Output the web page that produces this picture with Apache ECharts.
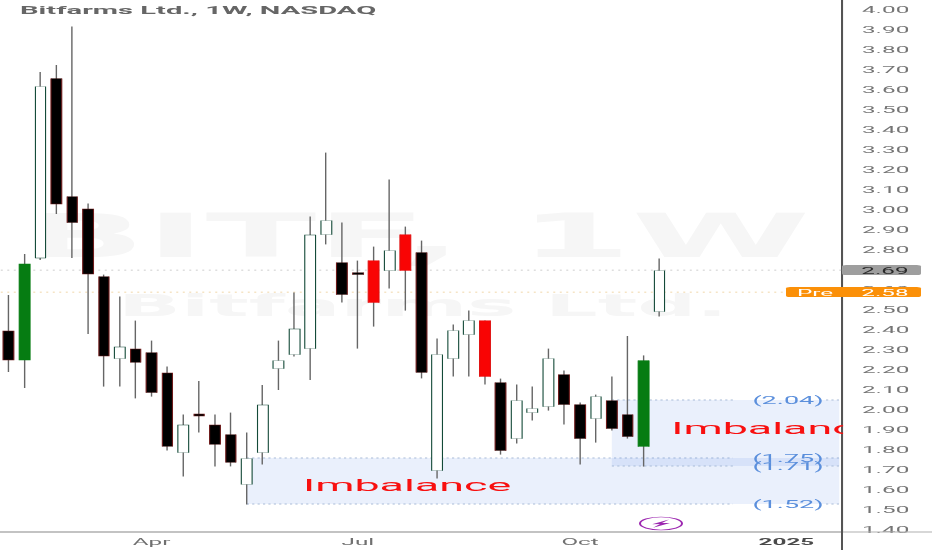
<!DOCTYPE html>
<html>
<head>
<meta charset="utf-8">
<style>
html,body{margin:0;padding:0;width:932px;height:550px;overflow:hidden;background:#fff}
#wrap{position:absolute;left:0;top:0;width:932px;height:550px;overflow:hidden;filter:blur(0.35px)}
#chart{position:absolute;left:0;top:0;transform-origin:0 0}
</style>
<script src="https://cdn.jsdelivr.net/npm/echarts@6/dist/echarts.min.js"></script>
</head>
<body>
<div id="wrap"><div id="chart"></div></div>
<script>
// ---- data ----
const categories = ['01-29','02-05','02-12','02-19','02-26','03-04','03-11','03-18','03-25','04-01','04-08','04-15','04-22','04-29','05-06','05-13','05-20','05-27','06-03','06-10','06-17','06-24','07-01','07-08','07-15','07-22','07-29','08-05','08-12','08-19','08-26','09-02','09-09','09-16','09-23','09-30','10-07','10-14','10-21','10-28','11-04','11-11','11-18','11-25','12-02','12-09','12-16','12-23','12-30','01-06','01-13','01-20','01-27'];
const xTickLabels = {'04-01':'Apr','07-01':'Jul','10-07':'Oct','01-06':'2025'};
const yTickValues = [4.0,3.9,3.8,3.7,3.6,3.5,3.4,3.3,3.2,3.1,3.0,2.9,2.8,2.6,2.5,2.4,2.3,2.2,2.1,2.0,1.9,1.8,1.7,1.6,1.5,1.4];
const opens  = [2.385,2.24,2.75,3.647,3.057,2.995,2.657,2.247,2.295,2.277,2.175,1.777,1.97,1.915,1.867,1.618,1.777,2.197,2.267,2.297,2.867,2.727,2.677,2.737,2.687,2.867,2.777,1.687,2.247,2.367,2.437,2.127,1.847,1.977,2.007,2.167,2.017,1.947,2.037,1.967,1.807,2.482];
const closes = [2.24,2.72,3.607,3.02,2.927,2.67,2.26,2.305,2.228,2.077,1.808,1.915,1.96,1.818,1.728,1.747,2.015,2.237,2.395,2.865,2.937,2.567,2.667,2.527,2.787,2.687,2.178,2.267,2.387,2.437,2.157,1.787,2.037,1.997,2.247,2.017,1.847,2.057,1.897,1.857,2.237,2.687];
const lows   = [2.18,2.10,2.74,2.97,2.75,2.37,2.107,2.107,2.048,2.057,1.788,1.658,1.878,1.708,1.708,1.518,1.718,2.09,2.258,2.14,2.818,2.527,2.297,2.407,2.597,2.487,2.148,1.647,2.157,2.157,2.117,1.767,1.822,1.937,1.987,1.917,1.717,1.827,1.887,1.847,1.707,2.458];
const highs  = [2.565,2.77,3.68,3.715,3.907,3.023,2.667,2.557,2.437,2.337,2.207,1.967,2.135,1.967,1.977,1.877,2.115,2.337,2.577,2.957,3.277,2.927,2.737,2.807,3.143,2.907,2.837,2.347,2.417,2.487,2.437,2.147,2.117,2.107,2.297,2.187,2.027,2.067,2.157,2.36,2.263,2.747];
const greenWeeks = [1,40];
const redWeeks   = [23,25,30];
const zones = [
  {from:15, to:52.33, top:1.75, bottom:1.52},
  {from:38, to:52.33, top:2.04, bottom:1.71}
];
const zoneLabels = [['(2.04)',2.04],['(1.75)',1.75],['(1.71)',1.71],['(1.52)',1.52]];
const zoneLabelAt = 49.1;
const imbalanceLabels = [['Imbalance',25.1,1.615],['Imbalance',48.3,1.90]];
const lastPrice = 2.69, prePrice = 2.58;

// ---- reference image is squeezed: wide horizontally, short vertically ----
const K = 2.7, S = 4;
const W = 932 / K * S, H = 550 * S;
const X = p => p / K * S, Y = p => p * S;
const el = document.getElementById('chart');
el.style.width = W + 'px';
el.style.height = H + 'px';
el.style.transform = 'scale(' + (K / S) + ',' + (1 / S) + ')';

const FONT = 'Roboto';
const chart = echarts.init(el, null, {renderer:'svg', width:W, height:H});

const wickData = opens.map((o,i)=>[o,closes[i],lows[i],highs[i]]);
const bodyData = opens.map((o,i)=>{
  const c = closes[i];
  const item = {value:[o,c,Math.min(o,c),Math.max(o,c)]};
  if (greenWeeks.includes(i)) item.itemStyle = {color:'#067c12',color0:'#067c12',borderColor:'#067c12',borderColor0:'#067c12'};
  if (redWeeks.includes(i))  item.itemStyle = {color:'#f90404',color0:'#f90404',borderColor:'#e01010',borderColor0:'#e01010'};
  return item;
});

const option = {
  animation:false,
  backgroundColor:'#fff',
  title:{text:'Bitfarms Ltd., 1W, NASDAQ',left:X(20),top:Y(4.5),padding:0,
    textStyle:{fontFamily:FONT,fontSize:Y(10.8),fontWeight:'bold',color:'#666'}},
  grid:{left:X(0.77),top:0,width:X(841.2),height:Y(532),containLabel:false},
  xAxis:[
    {type:'category',data:categories,boundaryGap:true,
     axisLine:{show:true,lineStyle:{color:'#b0b0b0',width:Y(1)}},axisTick:{show:false},splitLine:{show:false},
     axisLabel:{interval:(i,v)=>v in xTickLabels,
       formatter:v=>{const t=xTickLabels[v]||'';return t==='2025'?'{b|'+t+'}':t;},
       margin:Y(5.5),fontFamily:FONT,fontSize:Y(9),color:'#707070',
       rich:{b:{fontFamily:FONT,fontSize:Y(9),fontWeight:'bold',color:'#4a4a4a'}}}},
    {type:'value',min:-0.5,max:52.5,show:false}
  ],
  yAxis:{type:'value',position:'right',min:1.38,max:4.04,scale:false,
    axisLine:{show:true,onZero:false,lineStyle:{color:'#555',width:X(2)}},axisTick:{show:false},splitLine:{show:false},
    axisLabel:{customValues:yTickValues,formatter:v=>'{a|'+v.toFixed(2)+'}',margin:X(20),align:'left',
      rich:{a:{fontFamily:FONT,fontSize:Y(9),color:'#757575',padding:[Y(3),0,0,0]}},
      fontFamily:FONT,fontSize:Y(9),color:'#757575'}},
  graphic:[
    {type:'text',z:0,silent:true,style:{x:X(22),y:Y(236),text:'BITF, 1W',verticalAlign:'middle',fill:'#f6f6f6',
      font:'bold '+Y(60)+'px "DejaVu Sans"'}},
    {type:'text',z:0,silent:true,style:{x:X(118),y:Y(305),text:'Bitfarms Ltd.',verticalAlign:'middle',fill:'#f6f6f6',
      font:'bold '+Y(30.6)+'px "DejaVu Sans"'}},
    {type:'line',z:1,silent:true,shape:{x1:0,y1:Y(532),x2:W,y2:Y(532)},style:{stroke:'#b0b0b0',lineWidth:Y(1)}},
    {type:'line',z:1,silent:true,shape:{x1:X(842),y1:0,x2:X(842),y2:H},style:{stroke:'#555',lineWidth:X(2)}},
    {type:'ellipse',z:1,silent:true,shape:{cx:X(661),cy:Y(523.5),rx:X(21),ry:Y(6.5)},style:{fill:'none',stroke:'#9c27b0',lineWidth:X(2)}},
    {type:'polygon',z:1,silent:true,shape:{points:[[X(669),Y(519.5)],[X(652),Y(524.2)],[X(660),Y(524)],[X(653),Y(527.8)],[X(670),Y(523)],[X(662),Y(523)]]},style:{fill:'#9c27b0'}}
  ],
  series:[
    {type:'custom',name:'zones',xAxisIndex:1,yAxisIndex:0,z:1,silent:true,clip:false,
     data:zones.map(z=>[z.from,z.to,z.top,z.bottom]),
     renderItem:(p,api)=>{
       const a=api.coord([api.value(0),api.value(2)]),b=api.coord([api.value(1),api.value(3)]);
       const labelL=api.coord([zoneLabelAt,0])[0]-X(55),labelR=api.coord([zoneLabelAt,0])[0]+X(38);
       const dash={stroke:'#a9bcd8',lineWidth:Y(0.8),lineDash:[X(2.2),X(3.2)]};
       const seg=(y,x1,x2)=>({type:'line',shape:{x1,y1:y,x2,y2:y},style:dash});
       return {type:'group',children:[
         {type:'rect',shape:{x:a[0],y:a[1],width:b[0]-a[0],height:b[1]-a[1]},style:{fill:'rgba(86,134,232,0.12)'}},
         seg(a[1],a[0],labelL),seg(b[1],a[0],labelL),seg(a[1],labelR,b[0]),seg(b[1],labelR,b[0])
       ]};
     }},
    {type:'candlestick',name:'wicks',z:3,silent:true,barWidth:1,data:wickData,
     itemStyle:{color:'#666',color0:'#666',borderColor:'#666',borderColor0:'#666',borderWidth:X(1.4)},
     markLine:{silent:true,symbol:'none',z:2,label:{show:false},
       data:[
         {yAxis:lastPrice,lineStyle:{color:'#bdbdbd',width:Y(0.8),type:[X(2),X(4.5)]}},
         {yAxis:prePrice,lineStyle:{color:'#ecc98c',width:Y(0.8),type:[X(2),X(4.5)]}}
       ]}},
    {type:'candlestick',name:'bodies',z:4,silent:true,barWidth:X(11),data:bodyData,
     itemStyle:{color:'#ffffff',color0:'#000000',borderColor:'#144a38',borderColor0:'#6e1a1a',borderWidth:X(1.1)}},
    {type:'custom',name:'imbalance',xAxisIndex:1,yAxisIndex:0,z:5,silent:true,clip:true,
     data:imbalanceLabels.map(d=>[d[1],d[2],d[0]]),
     renderItem:(p,api)=>{
       const c=api.coord([api.value(0),api.value(1)]);
       return {type:'text',x:c[0],y:c[1],style:{text:imbalanceLabels[p.dataIndex][0],textAlign:'center',textVerticalAlign:'middle',
         fill:'#f81010',font:'400 '+Y(16.6)+'px '+FONT}};
     }},
    {type:'custom',name:'zoneLabels',xAxisIndex:1,yAxisIndex:0,z:5,silent:true,clip:false,
     data:zoneLabels.map(d=>[zoneLabelAt,d[1]]),
     renderItem:(p,api)=>{
       const c=api.coord([api.value(0),api.value(1)]);
       return {type:'text',x:c[0],y:c[1]+Y(0.5),style:{text:zoneLabels[p.dataIndex][0],textAlign:'center',textVerticalAlign:'middle',
         fill:'#5b8fdc',font:Y(10)+'px '+FONT}};
     }},
    {type:'custom',name:'tags',xAxisIndex:1,yAxisIndex:0,z:6,silent:true,clip:false,
     data:[[lastPrice,0],[prePrice,1]],
     renderItem:(p,api)=>{
       const y=api.coord([0,api.value(0)])[1],pre=api.value(1)===1;
       const left=pre?X(786):X(842),right=X(921),h=Y(10);
       const kids=[
         {type:'rect',shape:{x:left,y:y-h/2,width:right-left,height:h,r:Y(1.5)},style:{fill:pre?'#fb9008':'#9e9e9e'}},
         {type:'text',x:X(885),y:y+Y(0.7),style:{text:api.value(0).toFixed(2),textAlign:'center',textVerticalAlign:'middle',
           fill:pre?'#fff':'#2a2a2a',font:Y(9)+'px '+FONT}}
       ];
       if(pre) kids.push({type:'text',x:X(815),y:y+Y(0.7),style:{text:'Pre',textAlign:'center',textVerticalAlign:'middle',fill:'#fff',font:Y(9)+'px '+FONT}});
       return {type:'group',children:kids};
     }}
  ]
};
chart.setOption(option);
</script>
</body>
</html>
